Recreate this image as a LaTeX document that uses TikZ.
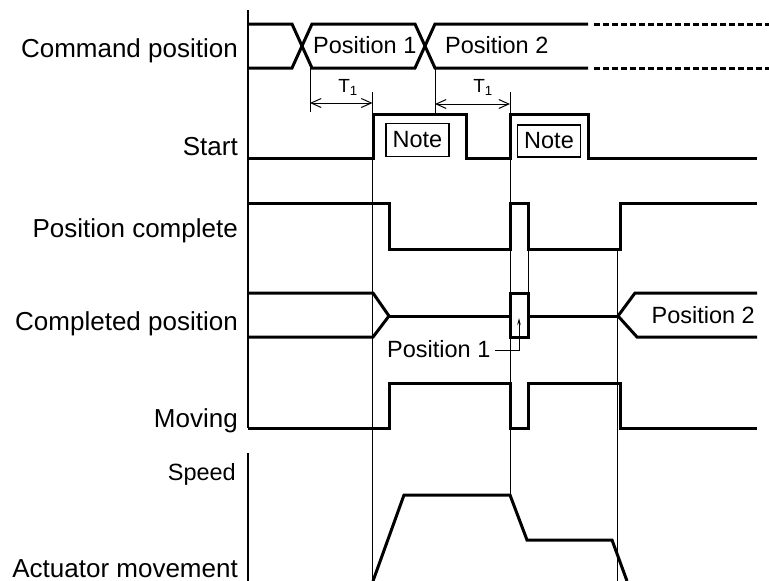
\documentclass[tikz,border=0pt]{standalone}
\usepackage{fontspec}
\setmainfont{Liberation Sans}
\usetikzlibrary{arrows.meta}

\begin{document}
\begin{tikzpicture}[x=1pt,y=-1pt,
  every node/.style={inner sep=0pt,font=\fontsize{23.5}{27}\selectfont},
  sig/.style={line width=3pt},
  guide/.style={line width=1pt},
  axis/.style={line width=1.5pt},
  lab/.style={anchor=base east,font=\fontsize{26}{30}\selectfont},
  notebox/.style={draw,line width=1.5pt,minimum width=63pt,minimum height=33pt},
  tlab/.style={anchor=base,font=\fontsize{19}{22}\selectfont},
  barb/.style={{Straight Barb[length=10pt,width=9pt]}-{Straight Barb[length=10pt,width=9pt]}}]
\useasboundingbox (0,0) rectangle (769,581);
\node[lab] (cmd) at (238,57) {Command position};
\node[lab] (start) at (238,155) {Start};
\node[lab] (pcomp) at (238,237) {Position complete};
\node[lab] (cpos) at (238,330) {Completed position};
\node[lab] (moving) at (238,427) {Moving};
\node[lab,font=\fontsize{23.5}{27}\selectfont] (speed) at (236,480) {Speed};
\node[lab] (act) at (238,577) {Actuator movement};
\draw[axis] (248,10) -- (248,428);
\draw[axis] (248,453) -- (248,581);
\foreach \gx/\gt/\gb in {372.5/92/581,510/92/495,528/203/293,617.5/249/581}
  \draw[guide] (\gx,\gt) -- (\gx,\gb);
\draw[sig] (248,24) -- (292,24) -- (312,68) -- (415,68) -- (435,24) -- (588,24);
\draw[sig] (248,68) -- (292,68) -- (312,24) -- (415,24) -- (435,68) -- (588,68);
\draw[sig,dash pattern=on 6pt off 3pt] (594,24) -- (769,24) (594,68) -- (769,68);
\node[anchor=base west] (cmdpos1) at (313,53) {Position 1};
\node[anchor=base west] (cmdpos2) at (445,53) {Position 2};
\draw[guide] (310,68) -- (310,112) (435,68) -- (435,113);
\draw[guide,barb] (310,103) -- (372.5,103);
\draw[guide,barb] (435,104) -- (510,104);
\node[tlab] (tone) at (348,92) {T\textsubscript{1}};
\node[tlab] (ttwo) at (483,92) {T\textsubscript{1}};
\draw[sig] (248,158) -- (373,158) -- (373,114) -- (466,114) -- (466,158) -- (510,158)
  -- (510,114) -- (588,114) -- (588,158) -- (757,158);
\node[notebox] (note1) at (417.5,140) {Note};
\node[notebox,minimum height=32pt] (note2) at (549,141) {Note};
\draw[sig] (248,203) -- (389,203) -- (389,249) -- (510,249) -- (510,203) -- (528,203)
  -- (528,249) -- (620,249) -- (620,203) -- (757,203);
\draw[sig] (248,293) -- (373,293) -- (389,316) -- (373,337) -- (248,337);
\draw[sig] (389,316) -- (510,316) (528,316) -- (618,316);
\draw[sig] (510,293) rectangle (528,337);
\draw[sig] (757,293) -- (635,293) -- (618,316) -- (637,337) -- (757,337);
\node[anchor=base east] (cpos2) at (755,323) {Position 2};
\node[anchor=base west] (cpos1) at (387,357) {Position 1};
\coordinate (cpos1tail) at (495,350);
\coordinate (cpos1head) at (519,318);
\draw[guide,-{Stealth[length=7pt,width=3.5pt]}] (cpos1tail) -| (cpos1head);
\draw[sig] (248,428) -- (389,428) -- (389,383) -- (510,383) -- (510,428) -- (528,428)
  -- (528,383) -- (620,383) -- (620,428) -- (757,428);
\draw[sig] (373,581) -- (404,495) -- (510,495) -- (527,540) -- (612,540) -- (627,581);
\end{tikzpicture}
\end{document}
